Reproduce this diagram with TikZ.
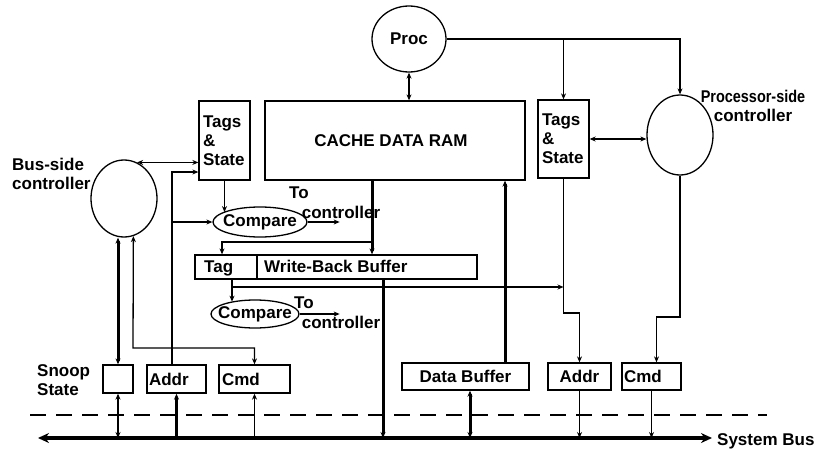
\documentclass[tikz,border=0pt]{standalone}
\usepackage{fontspec}
\setmainfont{Liberation Sans}
\usetikzlibrary{arrows.meta,shapes.geometric}
\begin{document}
\begin{tikzpicture}[x=1pt,y=-1pt,
  font=\fontsize{17}{19}\selectfont\bfseries,
  >={Stealth[length=6pt,width=5pt]},
  wire/.style={line width=1.3pt},
  bold/.style={line width=3pt},
  box/.style={draw, line width=1.3pt, inner sep=0pt, minimum height=28pt},
  oval/.style={draw, ellipse, line width=1.3pt, inner sep=0pt},
  txt/.style={inner sep=1pt}]
\useasboundingbox (0,0) rectangle (828,450);

% nodes
\node[oval, minimum width=74, minimum height=66] (proc) at (409,39) {Proc};
\node[box, minimum width=260, minimum height=79] (cache) at (395,140.5) {CACHE DATA RAM\hspace*{8pt}};
\node[box, text width=43, inner xsep=4pt, minimum height=79, align=left] (ltags) at (224.5,140.5) {Tags\\\&\\State};
\node[box, text width=43, inner xsep=4pt, minimum height=78, align=left] (rtags) at (563.5,139) {Tags\\\&\\State};
\node[oval, minimum width=66, minimum height=80] (psc) at (680,135) {};
\node[oval, minimum width=66, minimum height=77] (bsc) at (124,198.5) {};
\node[txt, align=center] (psclbl) at (753,106) {\scalebox{0.85}[1]{Processor-side}\\controller};
\node[txt, align=left, anchor=west] (bsclbl) at (11,174) {Bus-side\\controller};

\node[oval, minimum width=94, minimum height=30, label=center:Compare] (cmp1) at (260,222) {};
\node[oval, minimum width=88, minimum height=28, label=center:Compare] (cmp2) at (255,314) {};
\node[txt] (to1a) at (299,193) {To};
\node[txt] (to1b) at (341,212) {controller};
\node[txt] (to2a) at (304,303) {To};
\node[txt] (to2b) at (341,322) {controller};

\node[box, minimum width=282, minimum height=24] (wb) at (336,267) {};
\coordinate (wbdiv) at (257,267);
\draw[wire] (wb.north -| wbdiv) -- (wb.south -| wbdiv);
\node[txt, anchor=west] (wbtag) at (203,268) {Tag};
\node[txt, anchor=west] (wbtxt) at (263,266) {Write-Back Buffer};

\node[box, minimum width=30] (snoop) at (118,379) {};
\node[box, text width=55, inner xsep=2pt, align=left] (addrL) at (176.5,379) {Addr};
\node[box, text width=65, inner xsep=3pt, align=left] (cmdL) at (254.5,379) {Cmd};
\node[box, minimum width=127, minimum height=27] (dbuf) at (465.5,376.5) {Data Buffer};
\node[box, minimum height=27, text width=55, inner xsep=4pt, align=center] (addrR) at (579.5,376.5) {Addr};
\node[box, minimum height=27, text width=55, inner xsep=2pt, align=left] (cmdR) at (651.5,376.5) {Cmd};
\node[txt, align=left, anchor=west] (snooplbl) at (36,380) {Snoop\\State};
\node[txt, anchor=west] (buslbl) at (716,441) {System Bus};

% bus and dashed line
\coordinate (busL) at (38,438);
\coordinate (busR) at (712,438);
\coordinate (dashL) at (30,415);
\coordinate (dashR) at (767,415);
\draw[line width=4.5pt, {Stealth[length=11pt,width=10pt]}-{Stealth[length=11pt,width=10pt]}] (busL) -- (busR);
\draw[wire, dash pattern=on 16pt off 10pt] (dashL) -- (dashR);

% connectors
\draw[wire,<->] (proc.south) -- (proc.south |- cache.north);
\draw[wire,->] (proc.east) -| (psc.north);
\draw[wire,->] (rtags.north |- proc.east) -- (rtags.north);
\draw[wire,<->] (rtags.east) -- (rtags.east -| psc.west);
\draw[wire,<->] (bsc.70) -- (bsc.70 -| ltags.west);

\coordinate (av) at ([xshift=-4.5pt]addrL.north);
\coordinate (lt2) at ([yshift=-31.5pt]ltags.west);
\draw[wire,->] (av) |- (lt2);
\draw[wire,->] (av |- cmp1.west) -- (cmp1.west);
\draw[wire,->] (ltags.south) -- (ltags.south |- cmp1.165);
\coordinate (to1) at ([xshift=32pt]cmp1.east);
\draw[wire,->] (cmp1.east) -- (to1);

\coordinate (cx) at ([xshift=-23pt]cache.south);
\draw[bold,->] (cx) -- (cx |- wb.north);
\coordinate (j1) at (372,242);
\coordinate (tagtop) at ([xshift=-114pt]wb.north);
\draw[wire,->] (j1) -| (tagtop);
\coordinate (wbx) at ([xshift=47pt]wb.south);
\draw[bold,->] (wbx) -- (wbx |- busL);
\coordinate (tagb) at ([xshift=-104pt]wb.south);
\draw[wire,->] (tagb) -- (tagb |- cmp2.153);
\coordinate (j2) at (232,287);
\draw[wire,->] (j2) -- (j2 -| rtags.south);
\coordinate (to2) at ([xshift=40pt]cmp2.east);
\draw[wire,->] (cmp2.east) -- (to2);

\coordinate (rk) at (563.5,313);
\draw[wire,->] (rtags.south) -- (rk) -| (addrR.north);
\coordinate (pk) at (680,317);
\coordinate (cmdRin) at ([xshift=5pt]cmdR.north);
\draw[wire,->] (psc.south) -- (pk) -| (cmdRin);
\coordinate (dbx) at ([xshift=39.5pt]dbuf.north);
\draw[bold,->] (dbx) -- (dbx |- cache.south);

\draw[bold,<->] (snoop.north |- bsc.south) -- (snoop.north);
\coordinate (bk) at (133,348);
\draw[wire,<->] (bsc.284) -- (bk) -| (cmdL.north);

% bus taps
\draw[wire,<->] (snoop.south) -- (snoop.south |- busL);
\draw[bold,<-] (addrL.south) -- (addrL.south |- busL);
\draw[wire,<-] (cmdL.south) -- (cmdL.south |- busL);
\coordinate (dbb) at ([xshift=4.5pt]dbuf.south);
\draw[bold,<->] (dbb) -- (dbb |- busL);
\draw[wire,->] (addrR.south) -- (addrR.south |- busL);
\draw[wire,->] (cmdR.south) -- (cmdR.south |- busL);
\end{tikzpicture}
\end{document}
